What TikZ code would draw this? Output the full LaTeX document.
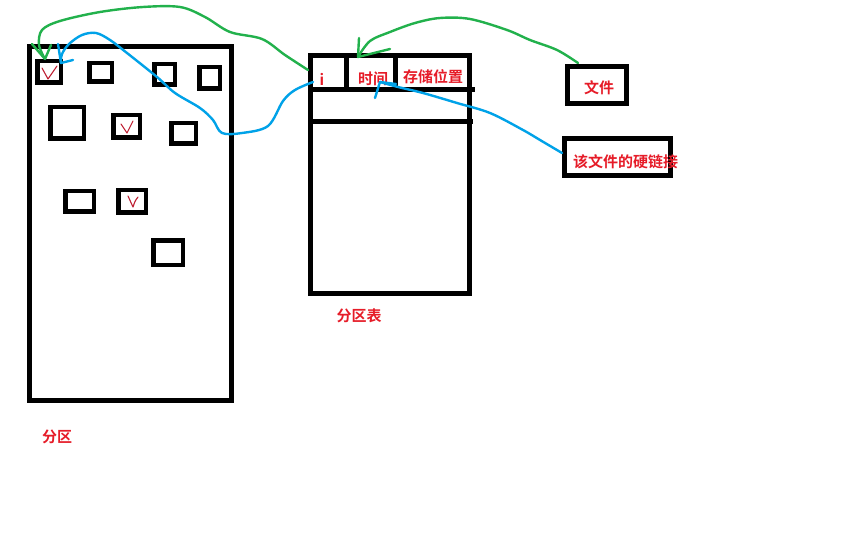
\documentclass[tikz,border=0pt]{standalone}
\usepackage{fontspec}
\newfontfamily\cjk{Noto Sans CJK SC}[BoldFont={Noto Sans CJK SC Bold}]
\definecolor{pred}{RGB}{230,28,40}
\definecolor{dred}{RGB}{190,30,50}
\definecolor{pgreen}{RGB}{34,177,76}
\definecolor{pblue}{RGB}{0,162,232}
\begin{document}
\begin{tikzpicture}[x=1pt,y=-1pt,
  sbox/.style={draw=black,line width=4.5pt,inner sep=0pt,outer sep=0pt},
  bbox/.style={draw=black,line width=5pt,inner sep=0pt,outer sep=0pt},
  lbl/.style={text=pred,font=\cjk\bfseries\fontsize{15}{17}\selectfont,inner sep=0pt},
  gcurve/.style={draw=pgreen,line width=2.4pt,line cap=round,line join=round},
  bcurve/.style={draw=pblue,line width=2.4pt,line cap=round,line join=round},
  tick/.style={draw=dred,line width=1.1pt,line cap=round,line join=round},
  tline/.style={draw=black,line width=5pt}]
\useasboundingbox[fill=white] (0,0) rectangle (850,545);
% partition
\node[bbox,minimum width=201.5pt,minimum height=353.5pt] (part) at (130.25,223.25) {};
\node[sbox,minimum width=23.5pt,minimum height=21.5pt] (b1) at (49,72) {};
\node[sbox,minimum width=22.5pt,minimum height=18.5pt] (b2) at (100.5,72.5) {};
\node[sbox,minimum width=20.5pt,minimum height=20.5pt] (b3) at (164.5,74.5) {};
\node[sbox,minimum width=20.5pt,minimum height=21.5pt] (b4) at (209.5,78) {};
\node[sbox,minimum width=33.5pt,minimum height=31.5pt] (b5) at (67,123) {};
\node[sbox,minimum width=26.5pt,minimum height=22.5pt] (b6) at (126.5,126.5) {};
\node[sbox,minimum width=24.5pt,minimum height=20.5pt] (b7) at (183.5,133.5) {};
\node[sbox,minimum width=28.5pt,minimum height=20.5pt] (b8) at (79.5,201.5) {};
\node[sbox,minimum width=27.5pt,minimum height=22.5pt] (b9) at (132,201.5) {};
\node[sbox,minimum width=29.5pt,minimum height=24.5pt] (b10) at (168,252.5) {};
% ticks
\draw[tick] (42,68) .. controls (45,74) .. (48,79) .. controls (52,72) .. (57,66);
\draw[tick] (121,124) .. controls (124,129) .. (127,133) .. controls (130,127) .. (133,121);
\draw[tick] (128,196) .. controls (130,202) .. (133,207) .. controls (135,201) .. (138,197);
\node[lbl] (lpart) at (57,437) {分区};
% table
\node[bbox,minimum width=159pt,minimum height=237pt] (tab) at (390,174.5) {};
\coordinate (r1a) at (310.5,89.5); \coordinate (r1b) at (475,89.5);
\coordinate (r2a) at (313,122); \coordinate (r2b) at (473,122);
\draw[tline] (r1a) -- (r1b);
\draw[tline] (r2a) -- (r2b);
\coordinate (c1a) at (346,56); \coordinate (c1b) at (346,89.5);
\coordinate (c2a) at (395,56); \coordinate (c2b) at (395,89.5);
\draw[tline] (c1a) -- (c1b);
\draw[tline] (c2a) -- (c2b);
\node[lbl] (ci) at (322,79) {i};
\node[lbl] (ctime) at (373,79) {时间};
\node[lbl] (cpos) at (433,77) {存储位置};
\node[lbl] (ltab) at (359,316) {分区表};
% right boxes
\node[bbox,minimum width=59pt,minimum height=37pt] (file) at (597,85) {};
\node[lbl] (tfile) at (599,88) {文件};
\node[bbox,minimum width=106pt,minimum height=37pt] (link) at (617.5,157) {};
\node[lbl] (tlink) at (625.5,162) {该文件的硬链接};
% green curve 1: table -> box1
\coordinate (g1s) at (308,70);
\coordinate (g1e) at (45,59);
\draw[gcurve] plot[smooth,tension=0.55] coordinates {(g1s) (285,55) (262,39) (230,32) (205,17) (180,7) (143,7) (100,12) (60,21) (42,30) (39,45) (g1e)};
\draw[gcurve] (32,44) -- (g1e) -- (51,45);
% blue curve 1: table -> box1
\coordinate (u1s) at (313,82);
\coordinate (u1e) at (61,63);
\draw[bcurve] plot[smooth,tension=0.55] coordinates {(u1s) (295,90) (283,101) (268,126) (242,133) (222,133) (213,120) (200,108) (175,93) (157,77) (127,53) (110,40) (96,33) (82,35) (69,44) (62,54) (u1e)};
\draw[bcurve] (58,44) -- (u1e) -- (73,60);
% green curve 2: file -> time
\coordinate (g2s) at (578,63);
\coordinate (g2e) at (358,57);
\draw[gcurve] plot[smooth,tension=0.55] coordinates {(g2s) (557,50) (530,40) (507,30) (470,19) (440,18) (415,23) (390,32) (370,41) (g2e)};
\draw[gcurve] (359,38) -- (g2e) -- (390,49);
% blue curve 2: link -> time
\coordinate (u2s) at (562,153);
\coordinate (u2e) at (380,82);
\draw[bcurve] plot[smooth,tension=0.55] coordinates {(u2s) (540,140) (523,130) (490,113) (457,103) (423,93) (398,87) (u2e)};
\draw[bcurve] (375,98) -- (u2e) -- (396,84);
\end{tikzpicture}
\end{document}
